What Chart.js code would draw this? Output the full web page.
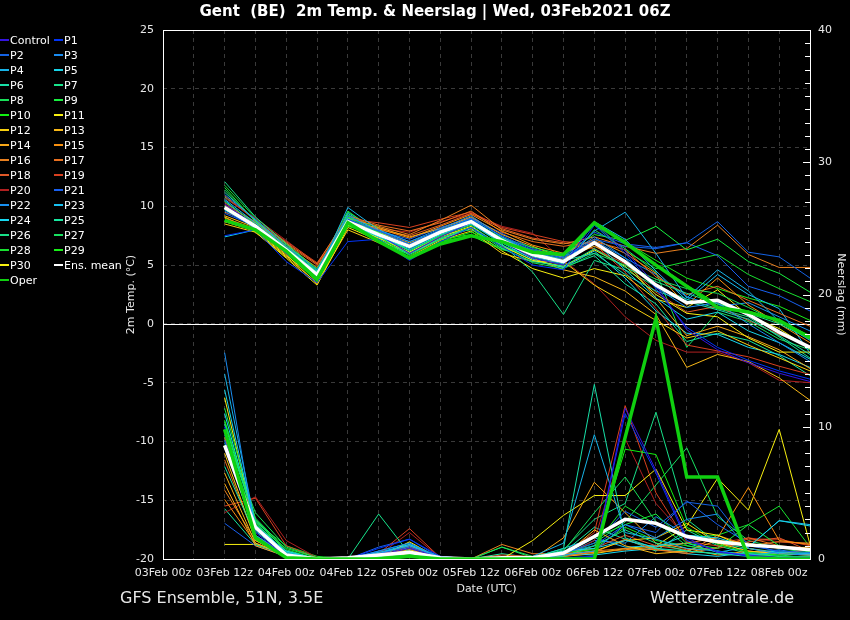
<!DOCTYPE html>
<html>
<head>
<meta charset="utf-8">
<script src="https://cdn.jsdelivr.net/npm/chart.js@4.4.0/dist/chart.umd.min.js"></script>
<style>
  html, body { margin: 0; padding: 0; background: #000; }
  canvas { display: block; }
</style>
</head>
<body>
<canvas id="gfs" width="850" height="620"></canvas>
<script>
// 6-hourly time axis, labels shown every 12h
const timeLabels = [
    '03Feb 00z', '03Feb 06z', '03Feb 12z', '03Feb 18z',
    '04Feb 00z', '04Feb 06z', '04Feb 12z', '04Feb 18z',
    '05Feb 00z', '05Feb 06z', '05Feb 12z', '05Feb 18z',
    '06Feb 00z', '06Feb 06z', '06Feb 12z', '06Feb 18z',
    '07Feb 00z', '07Feb 06z', '07Feb 12z', '07Feb 18z',
    '08Feb 00z', '08Feb 06z'
]
const firstStep = 2 // run data starts at 03Feb 12z

const tempTicks = [-20, -15, -10, -5, 0, 5, 10, 15, 20, 25]
const rainTicks = [0, 10, 20, 30, 40]

const memberNames = ['Control', 'P1', 'P2', 'P3', 'P4', 'P5', 'P6', 'P7', 'P8', 'P9', 'P10',
    'P11', 'P12', 'P13', 'P14', 'P15', 'P16', 'P17', 'P18', 'P19', 'P20',
    'P21', 'P22', 'P23', 'P24', 'P25', 'P26', 'P27', 'P28', 'P29', 'P30']
const memberColors = ['#3414e0', '#0034f8', '#1462e4', '#1a8cf0', '#18b4e8', '#18d4e8', '#18e0a8',
    '#18e48c', '#18e058', '#18f040', '#10f010', '#f8f010', '#f8d010', '#f8b818', '#f8a818',
    '#f89010', '#e88020', '#e87020', '#e05828', '#d84020', '#b02020', '#1860f0', '#1890f0',
    '#18c0f0', '#18d8f0', '#18e8a0', '#18e088', '#18e060', '#18e030', '#18f018', '#f8f010']
const meanColor = '#ffffff'
const operColor = '#10d010'

// 2m temperature (°C), 03Feb 12z .. 08Feb 06z
const tControl = [10.2, 8.4, 6.0, 4.0, 8.8, 7.6, 6.0, 7.4, 8.6, 7.0, 5.6, 5.0, 8.6, 6.2, 3.3, -0.5, -2.2, -3.3, -4.2, -4.9]
const tP1 = [7.5, 8.0, 5.3, 3.5, 7.0, 7.2, 5.4, 7.0, 8.2, 6.6, 5.0, 4.6, 8.4, 6.0, 3.0, -0.3, -2.0, -3.1, -4.0, -4.7]
const tP2 = [9.6, 8.2, 6.2, 4.3, 8.9, 7.9, 6.8, 8.0, 8.9, 7.5, 6.3, 5.6, 7.2, 6.6, 6.4, 6.9, 8.7, 6.1, 5.7, 3.9]
const tP3 = [11.0, 8.9, 6.6, 4.6, 9.2, 7.9, 7.0, 8.1, 9.2, 7.4, 6.2, 5.6, 7.4, 5.6, 3.1, 1.4, 1.8, 0.0, -1.6, -3.2]
const tP4 = [10.6, 8.6, 6.4, 4.1, 9.9, 8.0, 7.0, 7.9, 8.9, 7.2, 5.7, 5.1, 7.9, 9.5, 6.0, 2.2, 4.6, 2.8, 0.2, -1.4]
const tP5 = [9.8, 8.1, 6.1, 4.0, 8.5, 7.4, 6.4, 7.7, 8.6, 7.0, 5.8, 5.2, 7.0, 4.6, 2.2, 0.4, 1.0, -0.6, -1.6, -3.0]
const tP6 = [11.2, 8.8, 6.5, 4.4, 9.0, 7.7, 6.6, 7.9, 8.8, 7.1, 5.9, 5.4, 6.0, 4.2, 2.8, 1.9, 1.2, 0.4, -1.0, -2.6]
const tP7 = [12.1, 9.1, 6.8, 4.5, 8.9, 7.0, 5.9, 7.2, 8.2, 6.4, 5.3, 4.9, 6.4, 4.8, 3.6, 2.6, 1.7, 0.9, 0.0, -1.3]
const tP8 = [10.4, 8.5, 6.3, 4.3, 9.3, 7.6, 6.2, 7.5, 8.4, 6.5, 5.2, 4.7, 6.0, 5.0, 3.8, 3.0, 2.6, 1.4, 0.1, -1.1]
const tP9 = [11.6, 8.7, 6.7, 4.7, 9.1, 7.8, 6.5, 8.0, 8.8, 7.3, 6.5, 5.9, 7.6, 7.1, 8.3, 6.3, 7.2, 5.3, 4.3, 2.7]
const tP10 = [8.8, 8.1, 6.0, 3.6, 8.3, 7.5, 5.6, 7.0, 7.8, 6.9, 6.3, 5.8, 8.4, 6.9, 5.1, 3.3, 1.7, 1.1, 0.3, -1.0]
const tP11 = [8.7, 7.9, 5.8, 3.8, 8.4, 7.3, 6.1, 7.4, 8.3, 6.6, 5.4, 4.9, 6.3, 4.9, 2.5, 0.9, 0.6, -1.2, -2.4, -2.4]
const tP12 = [8.5, 7.8, 5.7, 3.5, 8.0, 6.9, 5.7, 7.1, 7.9, 6.0, 5.3, 5.3, 3.3, 1.8, 0.3, -1.2, -0.6, -1.8, -2.9, -4.0]
const tP13 = [9.2, 8.2, 6.1, 3.9, 8.4, 7.8, 6.9, 7.8, 8.6, 7.1, 5.6, 4.6, 4.0, 2.8, 0.8, -3.7, -2.6, -3.2, -4.6, -6.5]
const tP14 = [8.7, 8.0, 5.9, 3.4, 8.6, 8.2, 7.4, 8.1, 9.1, 7.6, 6.6, 5.6, 6.6, 5.4, 2.2, -1.0, -0.2, -1.1, -2.2, -3.8]
const tP15 = [9.0, 8.1, 6.2, 4.1, 8.5, 8.1, 7.3, 8.3, 9.3, 7.9, 6.7, 6.0, 7.2, 6.0, 4.3, 1.6, 3.9, 1.6, 0.0, -1.6]
const tP16 = [9.5, 8.6, 6.6, 4.8, 9.0, 8.3, 7.6, 8.8, 10.1, 8.0, 7.2, 6.8, 7.4, 6.6, 6.0, 6.4, 8.4, 5.9, 4.8, 4.8]
const tP17 = [10.1, 8.7, 6.9, 5.1, 9.2, 8.4, 7.9, 8.6, 9.6, 7.8, 7.0, 6.6, 7.0, 6.3, 4.0, 2.5, 3.2, 2.0, 0.9, -0.2]
const tP18 = [10.3, 8.6, 6.8, 5.0, 8.7, 8.0, 7.5, 8.4, 9.4, 8.1, 7.3, 6.9, 6.4, 5.1, 2.7, 1.0, 1.5, 0.3, -0.9, -1.9]
const tP19 = [10.9, 8.8, 7.0, 5.2, 8.9, 8.6, 8.2, 8.9, 9.5, 8.2, 7.6, 7.0, 6.8, 4.4, 1.3, -1.8, -2.3, -2.8, -3.6, -4.3]
const tP20 = [10.7, 9.0, 7.1, 5.1, 8.6, 8.1, 7.8, 8.7, 9.4, 8.3, 7.7, 5.4, 3.4, 0.6, -1.4, -2.4, -2.4, -3.3, -4.8, -5.0]
const tP21 = [9.4, 8.3, 6.2, 4.2, 8.8, 7.9, 7.2, 8.2, 9.0, 7.7, 6.4, 5.7, 7.8, 6.8, 6.5, 6.9, 5.8, 3.2, 2.4, 1.1]
const tP22 = [10.0, 8.3, 6.3, 4.4, 8.7, 7.5, 6.6, 7.9, 8.8, 7.3, 6.1, 5.5, 7.1, 5.6, 4.2, 2.3, 1.5, 1.8, 0.6, -0.6]
const tP23 = [10.5, 8.4, 6.4, 4.2, 9.4, 7.8, 6.8, 8.0, 9.0, 7.4, 6.0, 5.2, 8.7, 7.2, 4.5, 2.0, 4.2, 2.5, 1.3, -2.5]
const tP24 = [7.4, 8.0, 6.0, 4.0, 8.6, 7.3, 6.3, 7.6, 8.5, 6.9, 5.5, 4.8, 6.2, 3.9, 1.1, -0.8, -0.9, -2.0, -2.6, -3.7]
const tP25 = [9.7, 8.2, 6.2, 4.1, 8.4, 7.2, 6.0, 7.3, 8.2, 6.7, 5.4, 4.8, 5.8, 3.4, 1.7, -1.5, -0.8, -1.4, -2.7, -4.4]
const tP26 = [10.8, 8.9, 6.6, 4.4, 8.8, 7.4, 6.1, 7.5, 8.5, 6.8, 4.4, 0.8, 5.4, 4.6, 3.2, 2.1, 1.3, 0.6, -1.1, -2.9]
const tP27 = [11.4, 8.7, 6.4, 3.9, 9.5, 7.9, 6.2, 7.6, 8.0, 6.7, 5.6, 5.0, 8.0, 6.4, 4.4, -2.0, 1.0, 0.2, -1.3, -2.2]
const tP28 = [11.8, 9.0, 6.9, 4.6, 9.6, 7.7, 5.8, 7.2, 7.6, 6.4, 6.2, 5.7, 8.5, 6.2, 4.7, 5.3, 5.9, 4.2, 3.0, 1.9]
const tP29 = [10.0, 8.4, 6.5, 4.5, 9.1, 8.2, 5.5, 7.0, 7.5, 6.3, 6.0, 5.5, 8.6, 7.0, 5.4, 3.9, 3.0, 2.2, 1.5, 0.3]
const tP30 = [9.1, 7.8, 5.6, 3.3, 8.2, 7.1, 6.0, 7.2, 8.1, 6.2, 4.7, 3.9, 4.7, 4.1, 2.1, 1.4, 2.9, 0.7, -0.4, -2.1]
const tMean = [9.9, 8.3, 6.3, 4.2, 8.7, 7.6, 6.6, 7.8, 8.7, 7.1, 5.9, 5.3, 6.9, 5.3, 3.3, 1.8, 2.0, 0.8, -0.7, -2.0]
const tOper = [8.8, 8.0, 6.2, 3.8, 8.6, 7.0, 5.6, 6.8, 7.5, 7.0, 6.1, 5.9, 8.6, 6.9, 5.0, 3.2, 1.4, 1.0, 0.3, -1.2]

// Neerslag (mm per 6h)
const rControl = [8.4, 2.0, 0.2, 0, 0, 0.3, 0.8, 0.1, 0, 0, 0, 0, 0.1, 11.4, 6.7, 1.6, 0.5, 0.3, 0.1, 0.1]
const rP1 = [10.0, 1.6, 0.3, 0, 0, 0.8, 1.5, 0.2, 0, 0, 0, 0.1, 0.2, 11.0, 6.5, 1.4, 0.6, 0.2, 0.1, 0.1]
const rP2 = [9.0, 2.2, 0.4, 0, 0, 0.4, 0.9, 0.1, 0, 0, 0, 0.4, 1.2, 3.6, 2.4, 4.3, 4.0, 1.0, 0.6, 0.5]
const rP3 = [15.6, 1.8, 0.3, 0, 0, 0.6, 1.2, 0.1, 0, 0, 0, 0.3, 0.6, 2.6, 1.6, 3.0, 3.4, 0.8, 0.4, 0.3]
const rP4 = [14.0, 2.6, 0.5, 0, 0, 0.5, 1.0, 0.2, 0, 0, 0.2, 1.2, 9.4, 2.0, 1.5, 0.8, 0.6, 0.3, 0.5, 0.4]
const rP5 = [12.8, 2.4, 0.6, 0, 0, 0.4, 1.1, 0.1, 0, 0, 0.1, 0.6, 0.8, 1.4, 0.9, 1.8, 1.6, 0.9, 2.9, 2.5]
const rP6 = [7.0, 1.8, 0.3, 0, 0, 0.2, 0.6, 0, 0, 0, 0.1, 0.8, 13.2, 1.6, 0.8, 0.6, 0.4, 0.2, 0.1, 0.1]
const rP7 = [10.2, 2.8, 0.4, 0, 0, 3.4, 0.4, 0, 0, 0, 0, 0.2, 1.0, 2.2, 1.2, 0.6, 0.4, 0.4, 0.2, 0.2]
const rP8 = [9.6, 3.5, 0.9, 0.1, 0, 0.2, 0.3, 0, 0, 0.9, 0.2, 0.6, 3.5, 6.2, 2.8, 1.0, 0.6, 0.3, 0.5, 0.8]
const rP9 = [11.4, 3.0, 0.6, 0, 0, 0.2, 0.5, 0, 0, 0, 0, 0.4, 1.6, 2.6, 3.4, 1.2, 0.8, 2.6, 1.0, 0.6]
const rP10 = [10.5, 2.7, 0.5, 0, 0, 0.1, 0.3, 0, 0, 0, 0, 0.5, 0.7, 8.3, 7.9, 2.4, 1.1, 0.5, 0.3, 0.6]
const rP11 = [12.2, 2.2, 0.4, 0, 0, 0.1, 1.3, 0, 0, 0, 1.4, 3.3, 4.8, 4.8, 6.8, 2.2, 1.8, 0.8, 0.4, 0.3]
const rP12 = [8.0, 1.4, 0.2, 0, 0, 0.1, 0.6, 0, 0, 0, 0, 0.3, 0.6, 1.4, 1.6, 2.7, 1.2, 0.6, 0.4, 0.3]
const rP13 = [6.5, 1.2, 0.3, 0, 0, 0.2, 0.7, 0.1, 0, 0, 0, 0.2, 2.2, 1.0, 0.4, 0.6, 1.4, 1.2, 0.8, 0.9]
const rP14 = [5.7, 1.0, 0.2, 0, 0, 0.1, 0.4, 0, 0, 0, 0, 1.6, 5.8, 3.5, 1.2, 0.8, 0.3, 0.6, 0.4, 0.7]
const rP15 = [4.5, 1.2, 0.3, 0, 0, 0.1, 0.5, 0, 0, 0, 0, 0.3, 0.5, 0.7, 0.9, 1.2, 1.6, 5.4, 1.4, 1.1]
const rP16 = [5.2, 1.4, 0.2, 0, 0, 0.2, 0.8, 0, 0, 1.1, 0.4, 0.4, 0.6, 0.8, 0.7, 0.5, 1.8, 1.0, 1.3, 1.2]
const rP17 = [7.5, 1.5, 0.3, 0, 0, 0.2, 0.9, 0, 0, 0, 0, 0.2, 0.5, 1.5, 0.7, 0.4, 0.9, 1.6, 1.0, 0.8]
const rP18 = [9.2, 1.7, 0.4, 0, 0, 0.3, 1.0, 0, 0, 0.3, 0.2, 0.5, 0.8, 1.8, 1.0, 0.7, 0.8, 1.3, 1.6, 0.6]
const rP19 = [4.0, 4.6, 1.0, 0.1, 0, 0.4, 2.3, 0.1, 0, 0, 0, 0.3, 2.0, 11.6, 5.0, 1.3, 1.0, 1.5, 1.5, 1.0]
const rP20 = [3.5, 4.7, 1.4, 0.1, 0, 0.3, 2.0, 0.1, 0, 0, 0, 0.2, 1.4, 9.1, 4.2, 1.6, 1.2, 1.6, 1.3, 1.1]
const rP21 = [2.7, 1.0, 0.2, 0, 0, 0.9, 1.5, 0.1, 0, 0, 0, 0.4, 1.0, 2.6, 2.0, 4.4, 2.6, 1.2, 0.5, 0.4]
const rP22 = [9.4, 2.3, 0.4, 0, 0, 0.6, 1.2, 0.1, 0, 0, 0, 0.3, 1.4, 1.2, 3.2, 1.8, 1.5, 0.4, 0.7, 0.3]
const rP23 = [8.8, 2.1, 0.3, 0, 0, 0.5, 1.1, 0.1, 0, 0, 0.1, 0.8, 1.6, 0.9, 1.0, 1.2, 0.5, 0.9, 2.9, 2.6]
const rP24 = [11.0, 2.5, 0.5, 0, 0, 0.4, 1.0, 0.1, 0, 0, 0, 0.4, 0.3, 0.6, 0.8, 0.4, 0.2, 0.5, 0.6, 0.4]
const rP25 = [3.8, 1.1, 0.3, 0, 0, 0.2, 0.7, 0, 0, 0.4, 0.1, 0.5, 2.4, 1.5, 0.6, 2.2, 1.0, 0.4, 0.3, 0.4]
const rP26 = [9.8, 2.9, 0.6, 0, 0, 0.3, 0.4, 0, 0, 0, 0, 0.7, 3.0, 4.2, 11.1, 3.0, 1.2, 0.8, 0.5, 0.5]
const rP27 = [10.4, 3.1, 0.7, 0, 0, 0.2, 0.3, 0, 0, 0.9, 0.1, 0.4, 1.2, 2.8, 5.6, 8.4, 3.2, 1.4, 0.8, 0.7]
const rP28 = [9.2, 2.8, 1.0, 0.2, 0, 0.1, 0.2, 0, 0, 0, 0, 0.5, 1.0, 4.0, 2.6, 1.6, 1.8, 2.6, 4.0, 0.9]
const rP29 = [8.6, 2.6, 0.8, 0.1, 0, 0.1, 0.2, 0, 0, 0, 0, 0.3, 0.8, 2.4, 1.4, 1.0, 0.6, 0.3, 0.2, 0.5]
const rP30 = [1.1, 1.1, 0.3, 0, 0, 0.1, 0.6, 0, 0, 0, 0, 0.2, 0.4, 0.8, 1.0, 2.5, 6.1, 3.7, 9.8, 1.1]
const rMean = [8.6, 2.4, 0.3, 0.0, 0.1, 0.3, 0.5, 0.1, 0.0, 0.1, 0.1, 0.45, 1.7, 3.0, 2.7, 1.7, 1.3, 1.05, 0.9, 0.7]
const rOper = [9.8, 1.6, 0.1, 0, 0, 0, 0.2, 0, 0, 0, 0, 0, 0, 9.2, 18.2, 6.2, 6.2, 0.1, 0, 0]

const tempRuns = [tControl, tP1, tP2, tP3, tP4, tP5, tP6, tP7, tP8, tP9, tP10, tP11, tP12, tP13, tP14, tP15,
    tP16, tP17, tP18, tP19, tP20, tP21, tP22, tP23, tP24, tP25, tP26, tP27, tP28, tP29, tP30]
const rainRuns = [rControl, rP1, rP2, rP3, rP4, rP5, rP6, rP7, rP8, rP9, rP10, rP11, rP12, rP13, rP14, rP15,
    rP16, rP17, rP18, rP19, rP20, rP21, rP22, rP23, rP24, rP25, rP26, rP27, rP28, rP29, rP30]

const FONT = "'DejaVu Sans', sans-serif"

function padSteps(values) {
    let out = []
    for (let i = 0; i < firstStep; i++)
        out.push(null)
    return out.concat(values)
}

function lineSet(label, values, color, width, axis, order) {
    return {
        label: label,
        data: padSteps(values),
        borderColor: color,
        backgroundColor: color,
        borderWidth: width,
        pointRadius: 0,
        fill: false,
        tension: 0,
        yAxisID: axis,
        order: order
    }
}

let datasets = []
for (let i = 0; i < memberNames.length; i++) {
    datasets.push(lineSet(memberNames[i], tempRuns[i], memberColors[i], 1, 'y', 1))
    datasets.push(lineSet(memberNames[i], rainRuns[i], memberColors[i], 1, 'y2', 1))
}
datasets.push(lineSet('Ens. mean', tMean, meanColor, 3.5, 'y', -1))
datasets.push(lineSet('Ens. mean', rMean, meanColor, 3.5, 'y2', -1))
datasets.push(lineSet('Oper', tOper, operColor, 3.5, 'y', -2))
datasets.push(lineSet('Oper', rOper, operColor, 3.5, 'y2', -2))

// frame, zero line, inner ticks, legend and captions
const decor = {
    id: 'decor',
    beforeDraw(chart) {
        let ctx = chart.ctx
        ctx.save()
        ctx.fillStyle = '#000'
        ctx.fillRect(0, 0, chart.width, chart.height)
        ctx.restore()
    },
    beforeDatasetsDraw(chart) {
        let ctx = chart.ctx
        let a = chart.chartArea
        let y0 = chart.scales.y.getPixelForValue(0)
        ctx.save()
        ctx.strokeStyle = '#fff'
        ctx.lineWidth = 1
        ctx.beginPath()
        ctx.moveTo(a.left, Math.round(y0) + 0.5)
        ctx.lineTo(a.right, Math.round(y0) + 0.5)
        ctx.stroke()
        ctx.restore()
    },
    afterDatasetsDraw(chart) {
        let ctx = chart.ctx
        let a = chart.chartArea
        let y2 = chart.scales.y2
        ctx.save()
        ctx.strokeStyle = '#fff'
        ctx.lineWidth = 1
        ctx.strokeRect(Math.round(a.left) + 0.5, Math.round(a.top) + 0.5,
            Math.round(a.right - a.left), Math.round(a.bottom - a.top))
        ctx.beginPath()
        for (let v = y2.min; v <= y2.max; v++) {
            let py = Math.round(y2.getPixelForValue(v)) + 0.5
            ctx.moveTo(a.right - (v % 10 === 0 ? 7 : 5), py)
            ctx.lineTo(a.right, py)
        }
        ctx.stroke()
        ctx.restore()
    },
    afterDraw(chart) {
        let ctx = chart.ctx
        ctx.save()
        ctx.fillStyle = '#fff'
        ctx.textBaseline = 'middle'
        ctx.textAlign = 'center'
        ctx.font = 'bold 15px ' + FONT
        ctx.fillText('Gent  (BE)  2m Temp. & Neerslag | Wed, 03Feb2021 06Z', 435, 12)

        // legend in two columns
        let names = memberNames.concat(['Ens. mean', 'Oper'])
        let colors = memberColors.concat([meanColor, operColor])
        ctx.font = '11px ' + FONT
        ctx.textAlign = 'left'
        for (let i = 0; i < names.length; i++) {
            let x = (i % 2) * 54
            let y = 40 + Math.floor(i / 2) * 15
            ctx.fillStyle = colors[i]
            ctx.fillRect(x, y - 1, 9, 2)
            ctx.fillStyle = '#fff'
            ctx.fillText(names[i], x + 10, y + 1)
        }

        ctx.font = '16px ' + FONT
        ctx.fillStyle = '#e8e8e8'
        ctx.fillText('GFS Ensemble, 51N, 3.5E', 120, 599)
        ctx.textAlign = 'right'
        ctx.fillText('Wetterzentrale.de', 794, 599)
        ctx.restore()
    }
}

const config = {
    type: 'line',
    data: { labels: timeLabels, datasets: datasets },
    options: {
        responsive: false,
        animation: false,
        devicePixelRatio: 1,
        layout: { padding: { left: 125, right: 0, top: 30, bottom: 23 } },
        plugins: {
            legend: { display: false },
            title: { display: false },
            tooltip: { enabled: false }
        },
        scales: {
            x: {
                type: 'category',
                offset: false,
                grid: { color: '#3a3a3a', drawTicks: false },
                border: { display: false, dash: [4, 4] },
                ticks: {
                    color: '#e8e8e8',
                    font: { family: FONT, size: 11 },
                    padding: 8,
                    maxRotation: 0,
                    autoSkip: false,
                    callback: function (v, i) { return i % 2 === 0 ? timeLabels[i] : '' }
                },
                title: { display: true, text: 'Date (UTC)', color: '#e8e8e8', font: { family: FONT, size: 11 }, padding: { top: 0, bottom: 1 } },
                afterFit: function (scale) { scale.height = 38 }
            },
            y: {
                position: 'left',
                min: tempTicks[0],
                max: tempTicks[tempTicks.length - 1],
                afterBuildTicks: function (scale) { scale.ticks = tempTicks.map(v => ({ value: v })) },
                grid: { color: '#3a3a3a', drawTicks: false },
                border: { display: false, dash: [4, 4] },
                ticks: { color: '#e8e8e8', font: { family: FONT, size: 11 }, padding: 9 },
                title: { display: true, text: '2m Temp. (°C)', color: '#e8e8e8', font: { family: FONT, size: 11 }, padding: { top: 0, bottom: 0 } },
                afterFit: function (scale) { scale.width = 38 }
            },
            y2: {
                position: 'right',
                min: rainTicks[0],
                max: rainTicks[rainTicks.length - 1],
                afterBuildTicks: function (scale) { scale.ticks = rainTicks.map(v => ({ value: v })) },
                grid: { display: false, drawTicks: false },
                border: { display: false },
                ticks: { color: '#e8e8e8', font: { family: FONT, size: 11 }, padding: 8 },
                title: { display: true, text: 'Neerslag (mm)', color: '#e8e8e8', font: { family: FONT, size: 11 }, padding: { top: 3, bottom: 0 } },
                afterFit: function (scale) { scale.width = 40 }
            }
        }
    },
    plugins: [decor]
}

let ctx = document.getElementById('gfs').getContext('2d')
new Chart(ctx, config)
</script>
</body>
</html>
